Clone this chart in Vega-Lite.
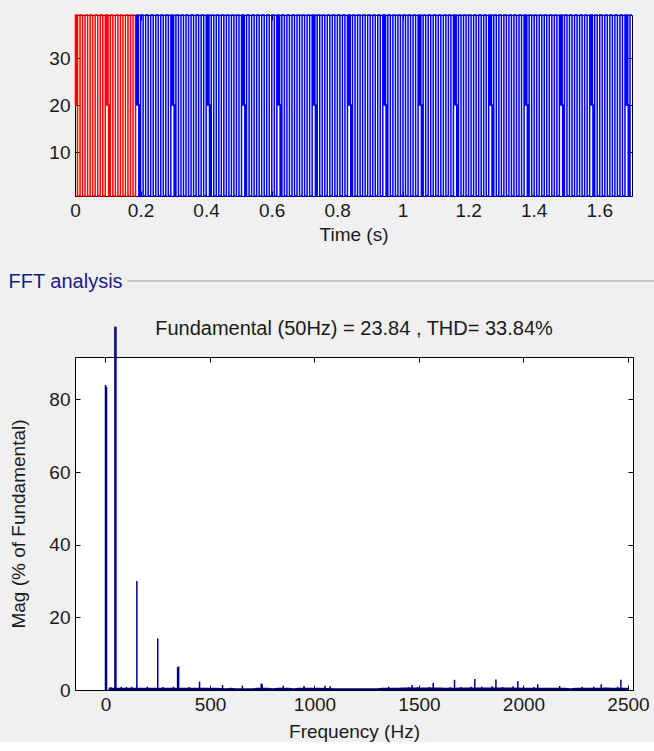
{
"$schema":"https://vega.github.io/schema/vega-lite/v6.json",
"background":"#f0f0f0",
"padding":{"left":8,"top":11,"right":0,"bottom":0},
"spacing":26,
"config":{
"font":"Liberation Sans",
"view":{"stroke":"#000000","strokeWidth":1,"fill":"#ffffff"},
"axis":{"grid":false,"domain":false,"tickColor":"#000000","tickSize":-5,"tickWidth":1,"labelFont":"Liberation Sans","labelFontSize":19,"labelColor":"#1a1a1a","labelPadding":10,"labelOverlap":false,"labelFlush":false,"titleFont":"Liberation Sans","titleFontSize":19,"titleFontWeight":"normal","titleColor":"#1a1a1a"}
},
"datasets":{
"sig":[
{"t":0,"v":20,"p":"w"},{"t":0.0015,"v":39.2,"p":"w"},{"t":0.003,"v":20,"p":"w"},{"t":0.0045,"v":39.2,"p":"w"},{"t":0.0077,"v":0.64,"p":"w"},{"t":0.0154,"v":39.2,"p":"w"},{"t":0.0231,"v":0.64,"p":"w"},{"t":0.0308,"v":39.2,"p":"w"},{"t":0.0385,"v":0.64,"p":"w"},{"t":0.0462,"v":39.2,"p":"w"},{"t":0.0539,"v":0.64,"p":"w"},{"t":0.0616,"v":39.2,"p":"w"},{"t":0.0693,"v":0.64,"p":"w"},{"t":0.077,"v":39.2,"p":"w"},{"t":0.0847,"v":0.64,"p":"w"},{"t":0.0924,"v":39.2,"p":"w"},
{"t":0.0949,"v":20,"p":"w"},{"t":0.0964,"v":39.2,"p":"w"},{"t":0.0979,"v":20,"p":"w"},{"t":0.0994,"v":39.2,"p":"w"},{"t":0.1009,"v":20,"p":"w"},{"t":0.1024,"v":0.64,"p":"w"},{"t":0.1039,"v":20,"p":"w"},{"t":0.1054,"v":0.64,"p":"w"},
{"t":0.1078,"v":39.2,"p":"w"},{"t":0.1155,"v":0.64,"p":"w"},{"t":0.1232,"v":39.2,"p":"w"},{"t":0.1309,"v":0.64,"p":"w"},{"t":0.1386,"v":39.2,"p":"w"},{"t":0.1463,"v":0.64,"p":"w"},{"t":0.154,"v":39.2,"p":"w"},{"t":0.1617,"v":0.64,"p":"w"},{"t":0.1694,"v":39.2,"p":"w"},{"t":0.1771,"v":0.64,"p":"w"},{"t":0.1848,"v":39.2,"p":"w"},{"t":0.1872,"v":39.2,"p":"w"},
{"t":0.1872,"v":39.2,"p":"s"},{"t":0.1873,"v":20,"p":"s"},{"t":0.1888,"v":39.2,"p":"s"},{"t":0.1903,"v":20,"p":"s"},{"t":0.1918,"v":39.2,"p":"s"},{"t":0.1933,"v":20,"p":"s"},{"t":0.1948,"v":0.64,"p":"s"},{"t":0.1963,"v":20,"p":"s"},{"t":0.1978,"v":0.64,"p":"s"},
{"t":0.2002,"v":39.2,"p":"s"},{"t":0.2079,"v":0.64,"p":"s"},{"t":0.2156,"v":39.2,"p":"s"},{"t":0.2233,"v":0.64,"p":"s"},{"t":0.231,"v":39.2,"p":"s"},{"t":0.2387,"v":0.64,"p":"s"},{"t":0.2464,"v":39.2,"p":"s"},{"t":0.2541,"v":0.64,"p":"s"},{"t":0.2618,"v":39.2,"p":"s"},{"t":0.2695,"v":0.64,"p":"s"},{"t":0.2772,"v":39.2,"p":"s"},{"t":0.2849,"v":0.64,"p":"s"},{"t":0.2926,"v":39.2,"p":"s"},
{"t":0.2951,"v":20,"p":"s"},{"t":0.2966,"v":39.2,"p":"s"},{"t":0.2981,"v":20,"p":"s"},{"t":0.2996,"v":39.2,"p":"s"},{"t":0.3011,"v":20,"p":"s"},{"t":0.3026,"v":0.64,"p":"s"},{"t":0.3041,"v":20,"p":"s"},{"t":0.3056,"v":0.64,"p":"s"},
{"t":0.308,"v":39.2,"p":"s"},{"t":0.3157,"v":0.64,"p":"s"},{"t":0.3234,"v":39.2,"p":"s"},{"t":0.3311,"v":0.64,"p":"s"},{"t":0.3388,"v":39.2,"p":"s"},{"t":0.3465,"v":0.64,"p":"s"},{"t":0.3542,"v":39.2,"p":"s"},{"t":0.3619,"v":0.64,"p":"s"},{"t":0.3696,"v":39.2,"p":"s"},{"t":0.3773,"v":0.64,"p":"s"},{"t":0.385,"v":39.2,"p":"s"},{"t":0.3927,"v":0.64,"p":"s"},{"t":0.4004,"v":39.2,"p":"s"},
{"t":0.4029,"v":20,"p":"s"},{"t":0.4044,"v":39.2,"p":"s"},{"t":0.4059,"v":20,"p":"s"},{"t":0.4074,"v":39.2,"p":"s"},{"t":0.4089,"v":20,"p":"s"},{"t":0.4104,"v":0.64,"p":"s"},{"t":0.4119,"v":20,"p":"s"},{"t":0.4134,"v":0.64,"p":"s"},
{"t":0.4158,"v":39.2,"p":"s"},{"t":0.4235,"v":0.64,"p":"s"},{"t":0.4312,"v":39.2,"p":"s"},{"t":0.4389,"v":0.64,"p":"s"},{"t":0.4466,"v":39.2,"p":"s"},{"t":0.4543,"v":0.64,"p":"s"},{"t":0.462,"v":39.2,"p":"s"},{"t":0.4697,"v":0.64,"p":"s"},{"t":0.4774,"v":39.2,"p":"s"},{"t":0.4851,"v":0.64,"p":"s"},{"t":0.4928,"v":39.2,"p":"s"},{"t":0.5005,"v":0.64,"p":"s"},{"t":0.5082,"v":39.2,"p":"s"},
{"t":0.5107,"v":20,"p":"s"},{"t":0.5122,"v":39.2,"p":"s"},{"t":0.5137,"v":20,"p":"s"},{"t":0.5152,"v":39.2,"p":"s"},{"t":0.5167,"v":20,"p":"s"},{"t":0.5182,"v":0.64,"p":"s"},{"t":0.5197,"v":20,"p":"s"},{"t":0.5212,"v":0.64,"p":"s"},
{"t":0.5236,"v":39.2,"p":"s"},{"t":0.5313,"v":0.64,"p":"s"},{"t":0.539,"v":39.2,"p":"s"},{"t":0.5467,"v":0.64,"p":"s"},{"t":0.5544,"v":39.2,"p":"s"},{"t":0.5621,"v":0.64,"p":"s"},{"t":0.5698,"v":39.2,"p":"s"},{"t":0.5775,"v":0.64,"p":"s"},{"t":0.5852,"v":39.2,"p":"s"},{"t":0.5929,"v":0.64,"p":"s"},{"t":0.6006,"v":39.2,"p":"s"},{"t":0.6083,"v":0.64,"p":"s"},{"t":0.616,"v":39.2,"p":"s"},
{"t":0.6185,"v":20,"p":"s"},{"t":0.62,"v":39.2,"p":"s"},{"t":0.6215,"v":20,"p":"s"},{"t":0.623,"v":39.2,"p":"s"},{"t":0.6245,"v":20,"p":"s"},{"t":0.626,"v":0.64,"p":"s"},{"t":0.6275,"v":20,"p":"s"},{"t":0.629,"v":0.64,"p":"s"},
{"t":0.6314,"v":39.2,"p":"s"},{"t":0.6391,"v":0.64,"p":"s"},{"t":0.6468,"v":39.2,"p":"s"},{"t":0.6545,"v":0.64,"p":"s"},{"t":0.6622,"v":39.2,"p":"s"},{"t":0.6699,"v":0.64,"p":"s"},{"t":0.6776,"v":39.2,"p":"s"},{"t":0.6853,"v":0.64,"p":"s"},{"t":0.693,"v":39.2,"p":"s"},{"t":0.7007,"v":0.64,"p":"s"},{"t":0.7084,"v":39.2,"p":"s"},{"t":0.7161,"v":0.64,"p":"s"},{"t":0.7238,"v":39.2,"p":"s"},
{"t":0.7263,"v":20,"p":"s"},{"t":0.7278,"v":39.2,"p":"s"},{"t":0.7293,"v":20,"p":"s"},{"t":0.7308,"v":39.2,"p":"s"},{"t":0.7323,"v":20,"p":"s"},{"t":0.7338,"v":0.64,"p":"s"},{"t":0.7353,"v":20,"p":"s"},{"t":0.7368,"v":0.64,"p":"s"},
{"t":0.7392,"v":39.2,"p":"s"},{"t":0.7469,"v":0.64,"p":"s"},{"t":0.7546,"v":39.2,"p":"s"},{"t":0.7623,"v":0.64,"p":"s"},{"t":0.77,"v":39.2,"p":"s"},{"t":0.7777,"v":0.64,"p":"s"},{"t":0.7854,"v":39.2,"p":"s"},{"t":0.7931,"v":0.64,"p":"s"},{"t":0.8008,"v":39.2,"p":"s"},{"t":0.8085,"v":0.64,"p":"s"},{"t":0.8162,"v":39.2,"p":"s"},{"t":0.8239,"v":0.64,"p":"s"},{"t":0.8316,"v":39.2,"p":"s"},
{"t":0.8341,"v":20,"p":"s"},{"t":0.8356,"v":39.2,"p":"s"},{"t":0.8371,"v":20,"p":"s"},{"t":0.8386,"v":39.2,"p":"s"},{"t":0.8401,"v":20,"p":"s"},{"t":0.8416,"v":0.64,"p":"s"},{"t":0.8431,"v":20,"p":"s"},{"t":0.8446,"v":0.64,"p":"s"},
{"t":0.847,"v":39.2,"p":"s"},{"t":0.8547,"v":0.64,"p":"s"},{"t":0.8624,"v":39.2,"p":"s"},{"t":0.8701,"v":0.64,"p":"s"},{"t":0.8778,"v":39.2,"p":"s"},{"t":0.8855,"v":0.64,"p":"s"},{"t":0.8932,"v":39.2,"p":"s"},{"t":0.9009,"v":0.64,"p":"s"},{"t":0.9086,"v":39.2,"p":"s"},{"t":0.9163,"v":0.64,"p":"s"},{"t":0.924,"v":39.2,"p":"s"},{"t":0.9317,"v":0.64,"p":"s"},{"t":0.9394,"v":39.2,"p":"s"},
{"t":0.9419,"v":20,"p":"s"},{"t":0.9434,"v":39.2,"p":"s"},{"t":0.9449,"v":20,"p":"s"},{"t":0.9464,"v":39.2,"p":"s"},{"t":0.9479,"v":20,"p":"s"},{"t":0.9494,"v":0.64,"p":"s"},{"t":0.9509,"v":20,"p":"s"},{"t":0.9524,"v":0.64,"p":"s"},
{"t":0.9548,"v":39.2,"p":"s"},{"t":0.9625,"v":0.64,"p":"s"},{"t":0.9702,"v":39.2,"p":"s"},{"t":0.9779,"v":0.64,"p":"s"},{"t":0.9856,"v":39.2,"p":"s"},{"t":0.9933,"v":0.64,"p":"s"},{"t":1.001,"v":39.2,"p":"s"},{"t":1.0087,"v":0.64,"p":"s"},{"t":1.0164,"v":39.2,"p":"s"},{"t":1.0241,"v":0.64,"p":"s"},{"t":1.0318,"v":39.2,"p":"s"},{"t":1.0395,"v":0.64,"p":"s"},{"t":1.0472,"v":39.2,"p":"s"},
{"t":1.0497,"v":20,"p":"s"},{"t":1.0512,"v":39.2,"p":"s"},{"t":1.0527,"v":20,"p":"s"},{"t":1.0542,"v":39.2,"p":"s"},{"t":1.0557,"v":20,"p":"s"},{"t":1.0572,"v":0.64,"p":"s"},{"t":1.0587,"v":20,"p":"s"},{"t":1.0602,"v":0.64,"p":"s"},
{"t":1.0626,"v":39.2,"p":"s"},{"t":1.0703,"v":0.64,"p":"s"},{"t":1.078,"v":39.2,"p":"s"},{"t":1.0857,"v":0.64,"p":"s"},{"t":1.0934,"v":39.2,"p":"s"},{"t":1.1011,"v":0.64,"p":"s"},{"t":1.1088,"v":39.2,"p":"s"},{"t":1.1165,"v":0.64,"p":"s"},{"t":1.1242,"v":39.2,"p":"s"},{"t":1.1319,"v":0.64,"p":"s"},{"t":1.1396,"v":39.2,"p":"s"},{"t":1.1473,"v":0.64,"p":"s"},{"t":1.155,"v":39.2,"p":"s"},
{"t":1.1575,"v":20,"p":"s"},{"t":1.159,"v":39.2,"p":"s"},{"t":1.1605,"v":20,"p":"s"},{"t":1.162,"v":39.2,"p":"s"},{"t":1.1635,"v":20,"p":"s"},{"t":1.165,"v":0.64,"p":"s"},{"t":1.1665,"v":20,"p":"s"},{"t":1.168,"v":0.64,"p":"s"},
{"t":1.1704,"v":39.2,"p":"s"},{"t":1.1781,"v":0.64,"p":"s"},{"t":1.1858,"v":39.2,"p":"s"},{"t":1.1935,"v":0.64,"p":"s"},{"t":1.2012,"v":39.2,"p":"s"},{"t":1.2089,"v":0.64,"p":"s"},{"t":1.2166,"v":39.2,"p":"s"},{"t":1.2243,"v":0.64,"p":"s"},{"t":1.232,"v":39.2,"p":"s"},{"t":1.2397,"v":0.64,"p":"s"},{"t":1.2474,"v":39.2,"p":"s"},{"t":1.2551,"v":0.64,"p":"s"},{"t":1.2628,"v":39.2,"p":"s"},
{"t":1.2653,"v":20,"p":"s"},{"t":1.2668,"v":39.2,"p":"s"},{"t":1.2683,"v":20,"p":"s"},{"t":1.2698,"v":39.2,"p":"s"},{"t":1.2713,"v":20,"p":"s"},{"t":1.2728,"v":0.64,"p":"s"},{"t":1.2743,"v":20,"p":"s"},{"t":1.2758,"v":0.64,"p":"s"},
{"t":1.2782,"v":39.2,"p":"s"},{"t":1.2859,"v":0.64,"p":"s"},{"t":1.2936,"v":39.2,"p":"s"},{"t":1.3013,"v":0.64,"p":"s"},{"t":1.309,"v":39.2,"p":"s"},{"t":1.3167,"v":0.64,"p":"s"},{"t":1.3244,"v":39.2,"p":"s"},{"t":1.3321,"v":0.64,"p":"s"},{"t":1.3398,"v":39.2,"p":"s"},{"t":1.3475,"v":0.64,"p":"s"},{"t":1.3552,"v":39.2,"p":"s"},{"t":1.3629,"v":0.64,"p":"s"},{"t":1.3706,"v":39.2,"p":"s"},
{"t":1.3731,"v":20,"p":"s"},{"t":1.3746,"v":39.2,"p":"s"},{"t":1.3761,"v":20,"p":"s"},{"t":1.3776,"v":39.2,"p":"s"},{"t":1.3791,"v":20,"p":"s"},{"t":1.3806,"v":0.64,"p":"s"},{"t":1.3821,"v":20,"p":"s"},{"t":1.3836,"v":0.64,"p":"s"},
{"t":1.386,"v":39.2,"p":"s"},{"t":1.3937,"v":0.64,"p":"s"},{"t":1.4014,"v":39.2,"p":"s"},{"t":1.4091,"v":0.64,"p":"s"},{"t":1.4168,"v":39.2,"p":"s"},{"t":1.4245,"v":0.64,"p":"s"},{"t":1.4322,"v":39.2,"p":"s"},{"t":1.4399,"v":0.64,"p":"s"},{"t":1.4476,"v":39.2,"p":"s"},{"t":1.4553,"v":0.64,"p":"s"},{"t":1.463,"v":39.2,"p":"s"},{"t":1.4707,"v":0.64,"p":"s"},{"t":1.4784,"v":39.2,"p":"s"},
{"t":1.4809,"v":20,"p":"s"},{"t":1.4824,"v":39.2,"p":"s"},{"t":1.4839,"v":20,"p":"s"},{"t":1.4854,"v":39.2,"p":"s"},{"t":1.4869,"v":20,"p":"s"},{"t":1.4884,"v":0.64,"p":"s"},{"t":1.4899,"v":20,"p":"s"},{"t":1.4914,"v":0.64,"p":"s"},
{"t":1.4938,"v":39.2,"p":"s"},{"t":1.5015,"v":0.64,"p":"s"},{"t":1.5092,"v":39.2,"p":"s"},{"t":1.5169,"v":0.64,"p":"s"},{"t":1.5246,"v":39.2,"p":"s"},{"t":1.5323,"v":0.64,"p":"s"},{"t":1.54,"v":39.2,"p":"s"},{"t":1.5477,"v":0.64,"p":"s"},{"t":1.5554,"v":39.2,"p":"s"},{"t":1.5631,"v":0.64,"p":"s"},{"t":1.5708,"v":39.2,"p":"s"},
{"t":1.5733,"v":20,"p":"s"},{"t":1.5748,"v":39.2,"p":"s"},{"t":1.5763,"v":20,"p":"s"},{"t":1.5778,"v":39.2,"p":"s"},{"t":1.5793,"v":20,"p":"s"},{"t":1.5808,"v":0.64,"p":"s"},{"t":1.5823,"v":20,"p":"s"},{"t":1.5838,"v":0.64,"p":"s"},
{"t":1.5862,"v":39.2,"p":"s"},{"t":1.5939,"v":0.64,"p":"s"},{"t":1.6016,"v":39.2,"p":"s"},{"t":1.6093,"v":0.64,"p":"s"},{"t":1.617,"v":39.2,"p":"s"},{"t":1.6247,"v":0.64,"p":"s"},{"t":1.6324,"v":39.2,"p":"s"},{"t":1.6401,"v":0.64,"p":"s"},{"t":1.6478,"v":39.2,"p":"s"},{"t":1.6555,"v":0.64,"p":"s"},{"t":1.6632,"v":39.2,"p":"s"},{"t":1.6709,"v":0.64,"p":"s"},{"t":1.6786,"v":39.2,"p":"s"},
{"t":1.6811,"v":20,"p":"s"},{"t":1.6826,"v":39.2,"p":"s"},{"t":1.6841,"v":20,"p":"s"},{"t":1.6856,"v":39.2,"p":"s"},{"t":1.6871,"v":20,"p":"s"},{"t":1.6886,"v":0.64,"p":"s"},{"t":1.6901,"v":20,"p":"s"},{"t":1.6916,"v":0.64,"p":"s"},
{"t":1.694,"v":39.2,"p":"s"},{"t":1.7,"v":39.2,"p":"s"}
],
"fft":[
{"f":0,"m":84.0},{"f":5,"m":83.5},{"f":15,"m":0.6},{"f":25,"m":0.8},{"f":45,"m":100},{"f":50,"m":100},{"f":60,"m":0.6},{"f":75,"m":0.9},{"f":90,"m":0.6},{"f":100,"m":0.8},{"f":110,"m":0.6},{"f":125,"m":0.9},{"f":140,"m":0.6},{"f":150,"m":30.0},{"f":160,"m":0.6},{"f":175,"m":0.6},{"f":200,"m":0.9},{"f":225,"m":0.6},{"f":250,"m":14.2},{"f":275,"m":0.8},{"f":300,"m":0.6},{"f":325,"m":0.9},{"f":345,"m":6.3},{"f":350,"m":6.5},{"f":375,"m":0.6},{"f":400,"m":0.8},{"f":425,"m":0.6},{"f":450,"m":2.3},{"f":475,"m":0.6},{"f":500,"m":0.6},{"f":525,"m":0.6},{"f":560,"m":1.4},{"f":575,"m":0.5},{"f":600,"m":0.6},{"f":625,"m":0.5},{"f":655,"m":1.2},{"f":675,"m":0.5},{"f":700,"m":0.5},{"f":725,"m":0.6},{"f":745,"m":1.8},{"f":750,"m":1.6},{"f":775,"m":0.6},{"f":800,"m":0.5},{"f":825,"m":0.6},{"f":850,"m":1.2},{"f":875,"m":0.6},{"f":900,"m":0.5},{"f":925,"m":0.6},{"f":950,"m":1.1},{"f":975,"m":0.6},{"f":1000,"m":0.6},{"f":1025,"m":0.6},{"f":1050,"m":1.2},{"f":1075,"m":1.0},{"f":1100,"m":0.5},{"f":1125,"m":0.5},{"f":1150,"m":0.5},{"f":1175,"m":0.5},{"f":1200,"m":0.5},{"f":1225,"m":0.5},{"f":1250,"m":0.5},{"f":1275,"m":0.5},{"f":1300,"m":0.5},{"f":1325,"m":0.6},{"f":1355,"m":0.9},{"f":1375,"m":0.6},{"f":1400,"m":0.6},{"f":1425,"m":0.7},{"f":1450,"m":0.8},{"f":1467,"m":1.4},{"f":1493,"m":0.8},{"f":1525,"m":0.7},{"f":1550,"m":0.8},{"f":1568,"m":2.0},{"f":1600,"m":0.7},{"f":1625,"m":0.6},{"f":1650,"m":0.8},{"f":1670,"m":2.8},{"f":1700,"m":0.8},{"f":1725,"m":0.7},{"f":1750,"m":0.9},{"f":1767,"m":3.0},{"f":1800,"m":0.9},{"f":1825,"m":0.7},{"f":1850,"m":1.0},{"f":1868,"m":2.9},{"f":1900,"m":0.8},{"f":1925,"m":0.7},{"f":1950,"m":1.0},{"f":1973,"m":2.4},{"f":2000,"m":0.8},{"f":2025,"m":0.6},{"f":2050,"m":0.8},{"f":2068,"m":1.6},{"f":2100,"m":0.6},{"f":2125,"m":0.6},{"f":2150,"m":0.6},{"f":2173,"m":1.1},{"f":2200,"m":0.6},{"f":2225,"m":0.5},{"f":2250,"m":0.6},{"f":2280,"m":0.9},{"f":2300,"m":0.6},{"f":2336,"m":0.9},{"f":2350,"m":0.6},{"f":2372,"m":1.6},{"f":2400,"m":0.7},{"f":2425,"m":0.6},{"f":2450,"m":0.9},{"f":2466,"m":2.8},{"f":2490,"m":0.6},{"f":2500,"m":0.6}
]
},
"vconcat":[
{"width":557,"height":181,"data":{"name":"sig"},
"layer":[
{"mark":{"type":"line","interpolate":"step-after","strokeWidth":1.5},
"encoding":{
"x":{"field":"t","type":"quantitative","scale":{"domain":[0,1.7],"nice":false,"zero":false},"axis":{"values":[0,0.2,0.4,0.6,0.8,1,1.2,1.4,1.6],"format":"~g","title":"Time (s)","titlePadding":5}},
"y":{"field":"v","type":"quantitative","scale":{"domain":[0.64,39.2],"nice":false,"zero":false},"axis":{"values":[10,20,30],"title":null}},
"color":{"field":"p","type":"nominal","scale":{"domain":["w","s"],"range":["#ff0000","#0000ff"]},"legend":null}}},
{"mark":{"type":"point","opacity":0},
"encoding":{
"x":{"field":"t","type":"quantitative","axis":{"orient":"top","values":[0,0.2,0.4,0.6,0.8,1,1.2,1.4,1.6],"labels":false,"title":null}},
"y":{"field":"v","type":"quantitative","axis":{"orient":"right","values":[10,20,30],"labels":false,"title":null}}}}
],
"resolve":{"axis":{"x":"independent","y":"independent"}}},
{"width":579,"height":12,"view":{"stroke":null,"fill":null},
"data":{"values":[{"box":"FFT analysis"}]},
"mark":{"type":"rule","color":"#a0a0a0","strokeWidth":1},
"encoding":{
"x":{"datum":0.09,"type":"quantitative","scale":{"domain":[0,1],"nice":false},"axis":null},
"x2":{"datum":1},
"y":{"datum":0.92,"type":"quantitative","scale":{"domain":[0,1],"nice":false},"axis":{"title":"FFT analysis","titleAngle":0,"titleAlign":"left","titleBaseline":"middle","titleX":-67,"titleY":1,"labels":false,"ticks":false,"domain":false,"titleColor":"#1a1a8c","titleFontSize":20}}}},
{"width":558,"height":333,
"title":{"text":"Fundamental (50Hz) = 23.84 , THD= 33.84%","fontSize":20,"fontWeight":"normal","color":"#1a1a1a","font":"Liberation Sans","anchor":"middle","offset":-15},
"data":{"name":"fft"},
"layer":[
{"transform":[{"filter":"datum.m >= 0.8"}],
"mark":{"type":"bar","size":1.5,"color":"#00007a","orient":"vertical"},
"encoding":{
"x":{"field":"f","type":"quantitative","scale":{"domain":[-122,2500],"nice":false,"zero":false},"axis":{"values":[0,500,1000,1500,2000,2500],"format":"d","title":"Frequency (Hz)","titlePadding":8}},
"y":{"field":"m","type":"quantitative","scale":{"domain":[0,91.7],"nice":false},"axis":{"values":[0,20,40,60,80],"title":"Mag (% of Fundamental)","titlePadding":20}}}},
{"transform":[{"filter":"datum.m < 0.8"}],
"mark":{"type":"area","color":"#00007a","interpolate":"linear"},
"encoding":{
"x":{"field":"f","type":"quantitative","axis":null},
"y":{"field":"m","type":"quantitative","axis":null}}},
{"mark":{"type":"point","opacity":0},
"encoding":{
"x":{"field":"f","type":"quantitative","axis":{"orient":"top","values":[0,500,1000,1500,2000,2500],"labels":false,"title":null}},
"y":{"field":"m","type":"quantitative","axis":{"orient":"right","values":[0,20,40,60,80],"labels":false,"title":null}}}}
],
"resolve":{"axis":{"x":"independent","y":"independent"}}}
]
}
